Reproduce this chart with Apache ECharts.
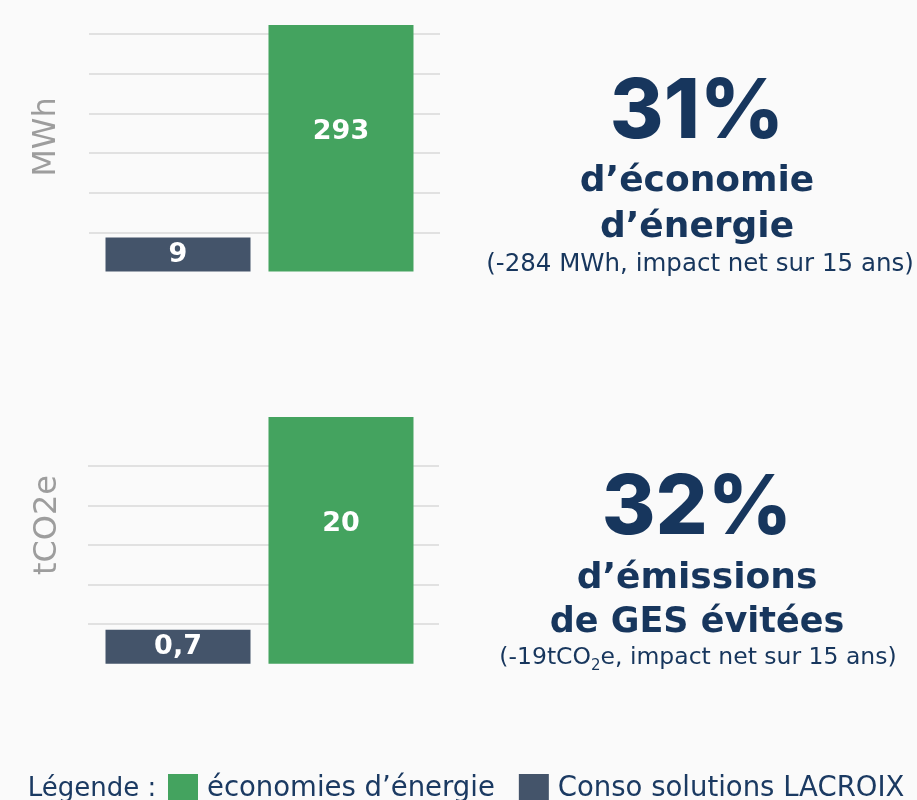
<!DOCTYPE html>
<html>
<head>
<meta charset="utf-8">
<script src="https://cdn.jsdelivr.net/npm/echarts@6/dist/echarts.min.js"></script>
<style>
  html, body { margin: 0; padding: 0; background: #fafafa; }
  #chart { width: 917px; height: 800px; }
</style>
</head>
<body>
<div id="chart"></div>
<script>
// donnees
var seriesNames = [ 'Conso solutions LACROIX', 'économies d’énergie' ];
var energyValues = [ 9, 293 ];   // MWh : conso, economies
var co2Values = [ 0.7, 20 ];     // tCO2e : conso, economies
var energyGridLines = 6;
var co2GridLines = 5;
var colors = [ '#44546a', '#44a35f' ];

var navy = '#17365d';
var font = 'DejaVu Sans';

function frNumber( v ) {
  return String( v ).replace( '.', ',' );
}

function barSeries( idx, axisIdx, value ) {
  return {
    name: seriesNames[ idx ],
    type: 'bar',
    xAxisIndex: axisIdx,
    yAxisIndex: axisIdx,
    data: [ value ],
    barWidth: 145,
    barGap: '12.4%',
    barMinHeight: 34,
    itemStyle: { color: colors[ idx ] },
    label: {
      show: true,
      position: 'inside',
      offset: idx === 1 ? [ 0, -16 ] : [ 0, 0 ],
      color: '#fff',
      fontFamily: font,
      fontWeight: 'bold',
      fontSize: 27,
      formatter: function( p ) { return frNumber( p.value ); }
    }
  };
}

function gridAxis( idx, lines ) {
  return {
    type: 'value', gridIndex: idx, min: 1, max: lines, interval: 1,
    axisLine: { show: false }, axisTick: { show: false }, axisLabel: { show: false },
    splitLine: { show: true, lineStyle: { color: '#e1e1e1', width: 2 } }
  };
}

function barAxis( idx ) {
  return {
    type: 'value', gridIndex: idx, min: 0, max: 'dataMax',
    show: false, splitLine: { show: false }
  };
}

function catAxis( idx ) {
  return { type: 'category', gridIndex: idx, data: [ '' ], show: false };
}

function txt( x, y, text, size, weight, family, extra ) {
  var style = {
    text: text,
    fill: navy,
    fontSize: size,
    fontWeight: weight,
    fontFamily: family,
    textAlign: 'center',
    textVerticalAlign: 'middle'
  };
  if( extra ) {
    for( var k in extra ) style[ k ] = extra[ k ];
  }
  return { type: 'text', x: x, y: y, style: style, silent: true };
}

var myChart = echarts.init( document.getElementById( 'chart' ) );

var option = {
  backgroundColor: '#fafafa',
  animation: false,
  grid: [
    { left: 84, width: 351, top: 25, height: 246.5 },
    { left: 89, width: 351, top: 34, height: 198.5 },
    { left: 84, width: 351, top: 417, height: 246.7 },
    { left: 88, width: 351, top: 466, height: 158 }
  ],
  xAxis: [ catAxis( 0 ), catAxis( 1 ), catAxis( 2 ), catAxis( 3 ) ],
  yAxis: [ barAxis( 0 ), gridAxis( 1, energyGridLines ), barAxis( 2 ), gridAxis( 3, co2GridLines ) ],
  legend: {
    data: [ seriesNames[ 1 ], seriesNames[ 0 ] ],
    left: 168,
    top: 774,
    padding: 0,
    icon: 'rect',
    itemWidth: 30,
    itemHeight: 30,
    itemGap: 24,
    textStyle: { color: '#1b3a62', fontFamily: font, fontSize: 27.5, padding: [ 0, 0, 0, 4 ] }
  },
  graphic: [
    txt( 47, 137, 'MWh', 32, 'normal', font, { fill: '#9d9d9d' } ),
    txt( 48, 525, 'tCO2e', 32, 'normal', font, { fill: '#9d9d9d' } ),
    txt( 697, 113, '31%', 82, 800, 'Inter' ),
    txt( 697, 182, 'd’économie', 36, 'bold', font ),
    txt( 697, 228, 'd’énergie', 36, 'bold', font ),
    txt( 700, 265, '(-284 MWh, impact net sur 15 ans)', 24.5, 'normal', font ),
    txt( 697, 509, '32%', 82, 800, 'Inter' ),
    txt( 697, 579, 'd’émissions', 36, 'bold', font ),
    txt( 697, 623, 'de GES évitées', 35, 'bold', font ),
    txt( 698, 658, '(-19tCO{s|2}e, impact net sur 15 ans)', 23.5, 'normal', font, {
      rich: { s: { fontSize: 15, fontFamily: font, fill: navy, padding: [ 16, 0, 0, 0 ] } }
    } ),
    txt( 92, 789, 'Légende :', 26, 'normal', font, { fill: '#1b3a62' } )
  ],
  series: [
    barSeries( 0, 0, energyValues[ 0 ] ),
    barSeries( 1, 0, energyValues[ 1 ] ),
    barSeries( 0, 2, co2Values[ 0 ] ),
    barSeries( 1, 2, co2Values[ 1 ] )
  ]
};

// rotation des titres d'axe
option.graphic[ 0 ].rotation = Math.PI / 2;
option.graphic[ 1 ].rotation = Math.PI / 2;

myChart.setOption( option );
</script>
</body>
</html>
